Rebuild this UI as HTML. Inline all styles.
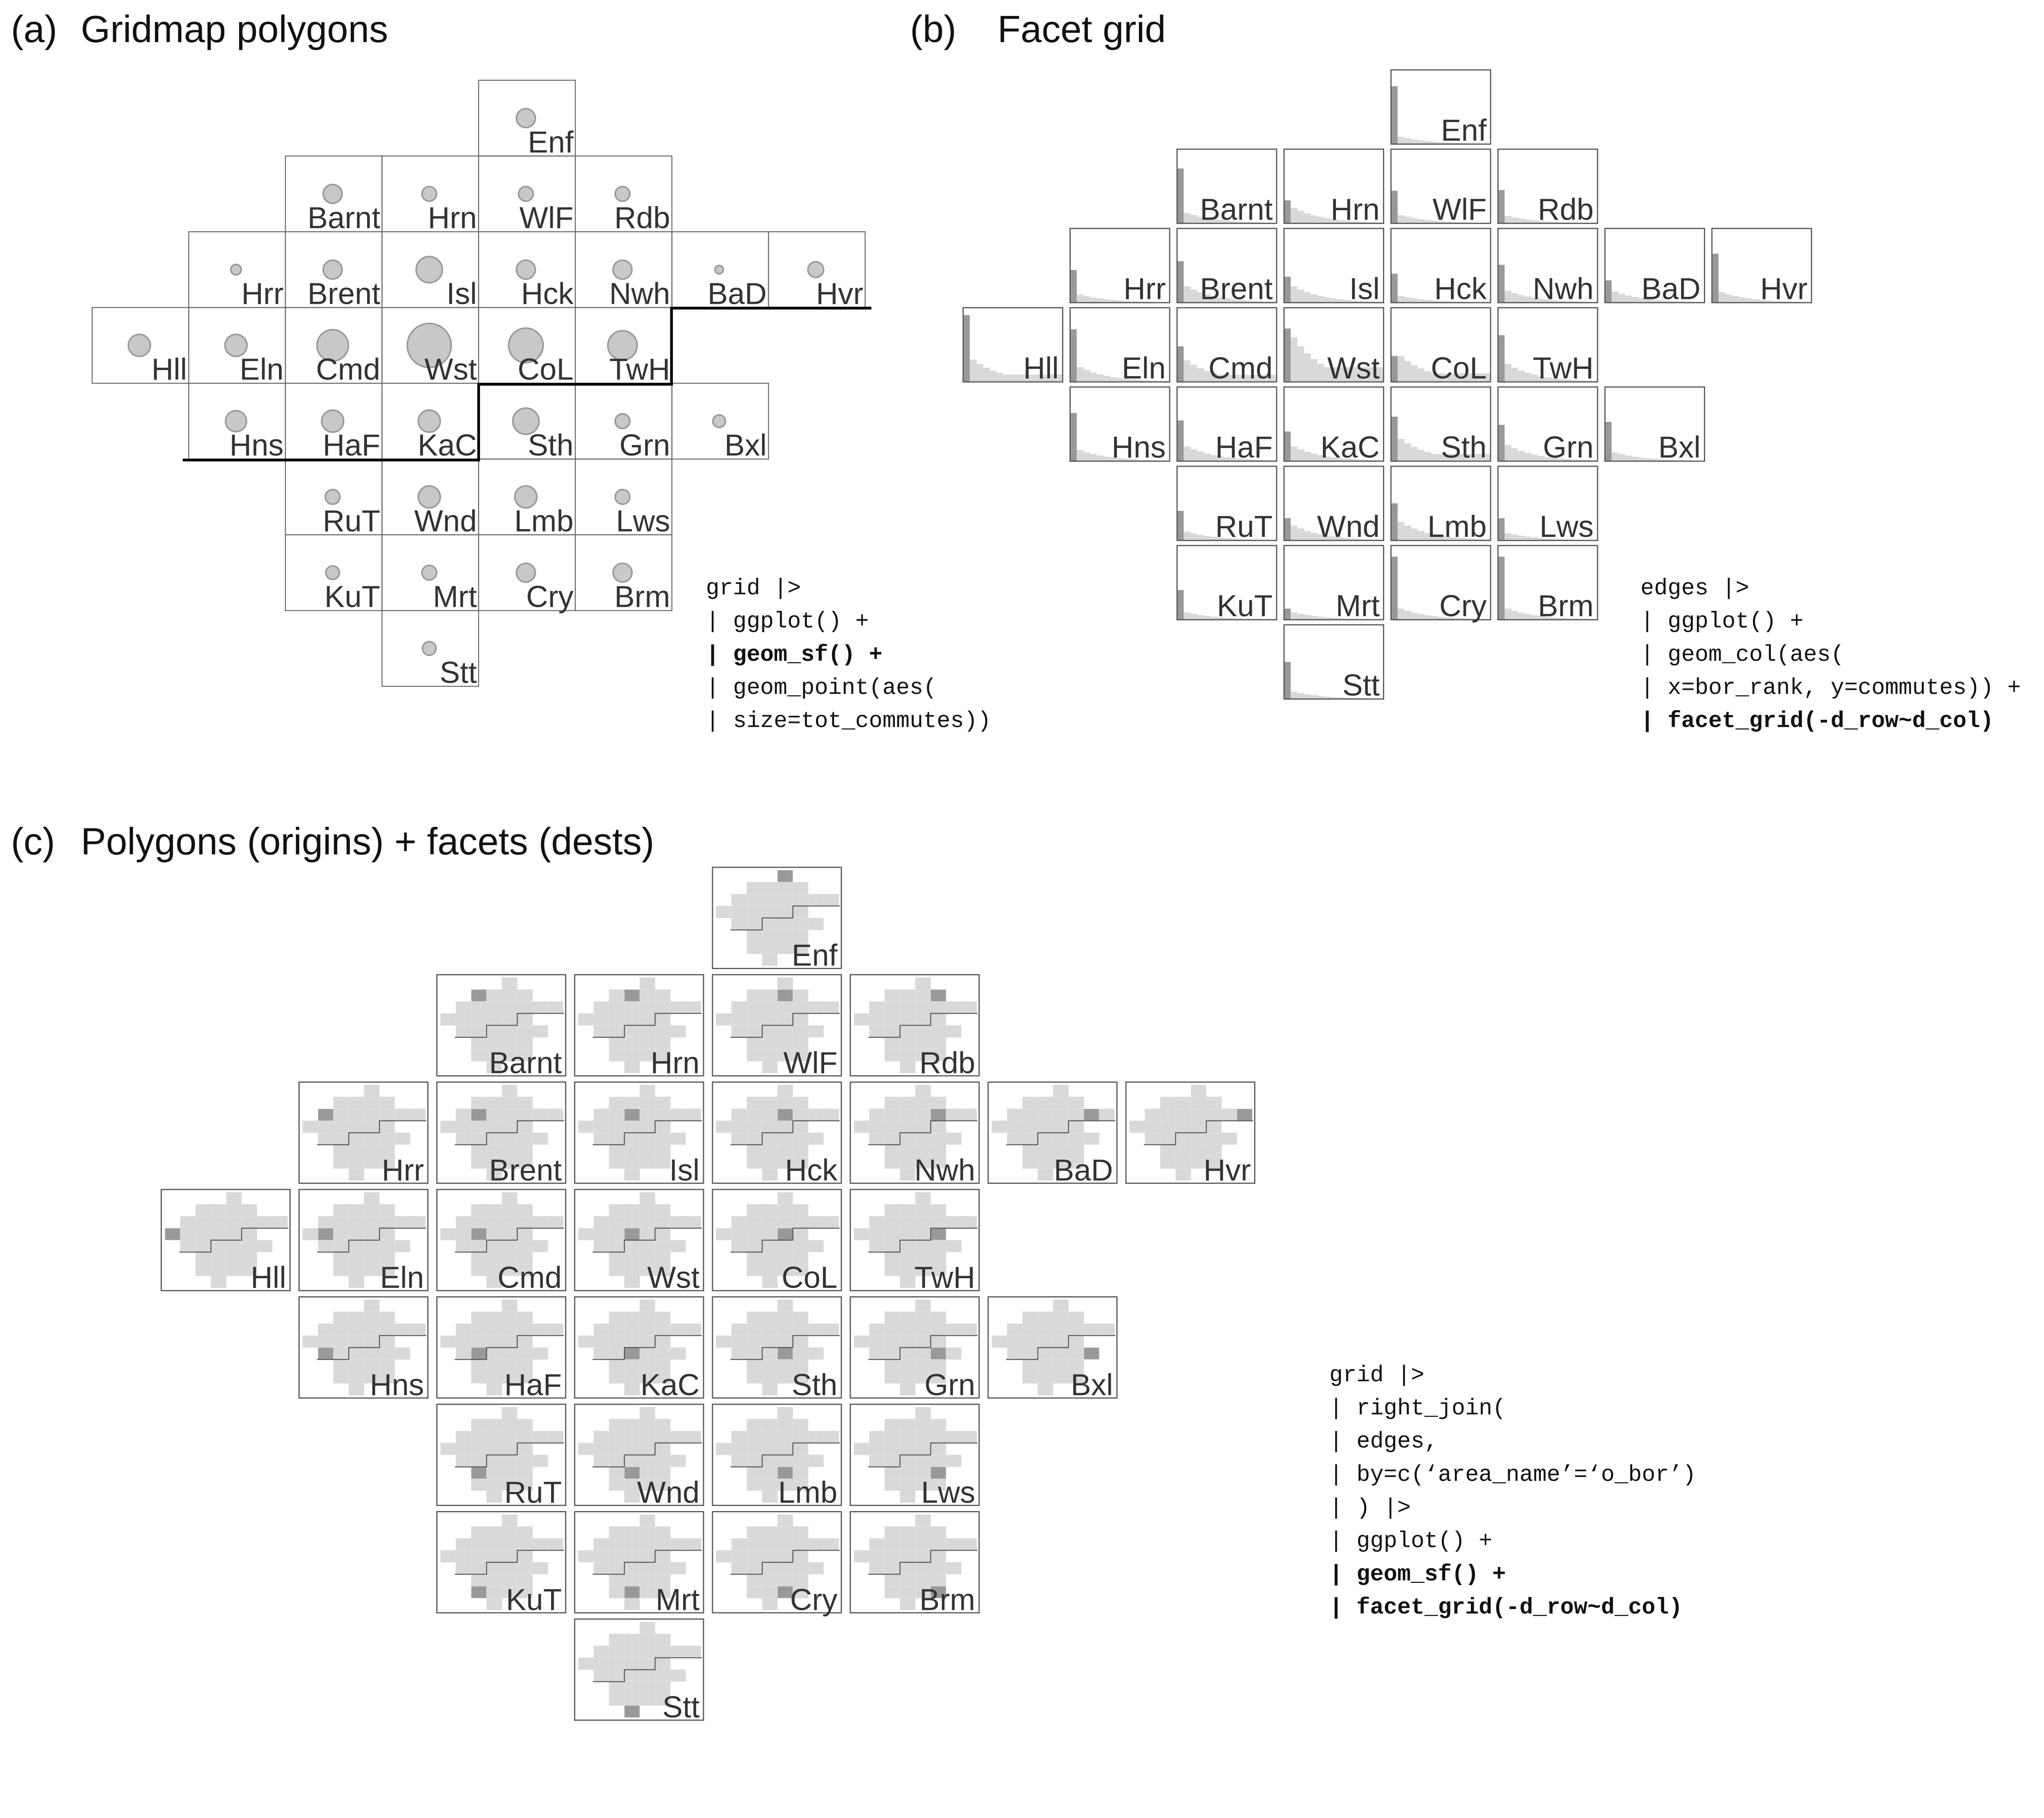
<!DOCTYPE html>
<html><head><meta charset="utf-8"><style>
html,body{margin:0;padding:0;background:#fff;}
svg{display:block;}
.lab{font-family:"Liberation Sans",sans-serif;font-size:78px;fill:#333;text-anchor:end;}
.ttl{font-family:"Liberation Sans",sans-serif;font-size:97px;fill:#111;}
.code{font-family:"Liberation Mono",monospace;font-size:58px;fill:#111;white-space:pre;}
.b{font-weight:bold;}
</style></head><body>
<svg id="s" width="5237" height="4446" viewBox="0 0 5237 4446" xmlns="http://www.w3.org/2000/svg">
<rect width="5237" height="4446" fill="#fff"/>
<g transform="scale(0.955)">
<text class="ttl" x="28" y="108">(a)</text><text class="ttl" x="207" y="108">Gridmap polygons</text>
<text class="ttl" x="2331" y="108">(b)</text><text class="ttl" x="2555" y="108">Facet grid</text>
<text class="ttl" x="28" y="2188">(c)</text><text class="ttl" x="207" y="2188">Polygons (origins) + facets (dests)</text>
<g id="shA"></g><g id="shB"></g><g id="shC"></g>
<g id="A" class="lab"><text>Enf</text><text>Barnt</text><text>Hrn</text><text>WlF</text><text>Rdb</text><text>Hrr</text><text>Brent</text><text>Isl</text><text>Hck</text><text>Nwh</text><text>BaD</text><text>Hvr</text><text>Hll</text><text>Eln</text><text>Cmd</text><text>Wst</text><text>CoL</text><text>TwH</text><text>Hns</text><text>HaF</text><text>KaC</text><text>Sth</text><text>Grn</text><text>Bxl</text><text>RuT</text><text>Wnd</text><text>Lmb</text><text>Lws</text><text>KuT</text><text>Mrt</text><text>Cry</text><text>Brm</text><text>Stt</text></g>
<g id="B" class="lab"><text>Enf</text><text>Barnt</text><text>Hrn</text><text>WlF</text><text>Rdb</text><text>Hrr</text><text>Brent</text><text>Isl</text><text>Hck</text><text>Nwh</text><text>BaD</text><text>Hvr</text><text>Hll</text><text>Eln</text><text>Cmd</text><text>Wst</text><text>CoL</text><text>TwH</text><text>Hns</text><text>HaF</text><text>KaC</text><text>Sth</text><text>Grn</text><text>Bxl</text><text>RuT</text><text>Wnd</text><text>Lmb</text><text>Lws</text><text>KuT</text><text>Mrt</text><text>Cry</text><text>Brm</text><text>Stt</text></g>
<g id="C" class="lab"><text>Enf</text><text>Barnt</text><text>Hrn</text><text>WlF</text><text>Rdb</text><text>Hrr</text><text>Brent</text><text>Isl</text><text>Hck</text><text>Nwh</text><text>BaD</text><text>Hvr</text><text>Hll</text><text>Eln</text><text>Cmd</text><text>Wst</text><text>CoL</text><text>TwH</text><text>Hns</text><text>HaF</text><text>KaC</text><text>Sth</text><text>Grn</text><text>Bxl</text><text>RuT</text><text>Wnd</text><text>Lmb</text><text>Lws</text><text>KuT</text><text>Mrt</text><text>Cry</text><text>Brm</text><text>Stt</text></g>
<g class="code">
<text x="1808" y="1522">grid |&gt;</text>
<text x="1808" y="1607">| ggplot() +</text>
<text x="1808" y="1692" class="b">|  geom_sf() +</text>
<text x="1808" y="1777">| geom_point(aes(</text>
<text x="1808" y="1862">| size=tot_commutes))</text>
<text x="4202" y="1522">edges |&gt;</text>
<text x="4202" y="1607">| ggplot() +</text>
<text x="4202" y="1692">| geom_col(aes(</text>
<text x="4202" y="1777">| x=bor_rank, y=commutes)) +</text>
<text x="4202" y="1862" class="b">|  facet_grid(-d_row~d_col)</text>
<text x="3405" y="3537">grid |&gt;</text>
<text x="3405" y="3622">| right_join(</text>
<text x="3405" y="3707">| edges,</text>
<text x="3405" y="3792">| by=c(‘area_name’=‘o_bor’)</text>
<text x="3405" y="3877">| ) |&gt;</text>
<text x="3405" y="3962">| ggplot() +</text>
<text x="3405" y="4047" class="b">|  geom_sf() +</text>
<text x="3405" y="4132" class="b">|  facet_grid(-d_row~d_col)</text>
</g>
</g>
</svg>
<script>
var NS="http://www.w3.org/2000/svg";
var cells=[[0,4],[1,2],[1,3],[1,4],[1,5],[2,1],[2,2],[2,3],[2,4],[2,5],[2,6],[2,7],[3,0],[3,1],[3,2],[3,3],[3,4],[3,5],[4,1],[4,2],[4,3],[4,4],[4,5],[4,6],[5,2],[5,3],[5,4],[5,5],[6,2],[6,3],[6,4],[6,5],[7,3]];
var rad=[18,18,14,14,14,10,18,25,18,18,8,15,21,21,30,42,33,28,20,21,21,25,14,12,14,21,21,14,13,14,18,18,13];
var bars=[[.78,.1],[.74,.14],[.31,.21],[.44,.11],[.45,.1],[.44,.11],[.56,.22],[.35,.22],[.39,.09],[.51,.16],[.3,.15],[.66,.14],[.9,.3],[.71,.2],[.48,.29],[.72,.6],[.35,.35],[.63,.24],[.65,.15],[.55,.2],[.4,.2],[.6,.3],[.49,.22],[.53,.12],[.4,.12],[.3,.2],[.5,.25],[.3,.1],[.4,.1],[.15,.1],[.85,.15],[.85,.15],[.5,.1]];
function el(p,t,a){var e=document.createElementNS(NS,t);for(var k in a)e.setAttribute(k,a[k]);p.appendChild(e);return e;}
var gA=document.getElementById('shA'),gB=document.getElementById('shB'),gC=document.getElementById('shC');
var tA=document.getElementById('A').children,tB=document.getElementById('B').children,tC=document.getElementById('C').children;
for(var i=0;i<33;i++){
 var r=cells[i][0],c=cells[i][1];
 var x=236+c*247.5,y=205.5+r*194;
 el(gA,'rect',{x:x,y:y,width:247.5,height:194,fill:'none',stroke:'#666','stroke-width':2.5});
 el(gA,'circle',{cx:x+121,cy:y+97,r:rad[i]*1.34,fill:'#c8c8c8',stroke:'#999','stroke-width':4});
 tA[i].setAttribute('x',x+243);tA[i].setAttribute('y',y+185);
 x=2467+c*274;y=179+r*203;var w=255,h=190;
 el(gB,'rect',{x:x,y:y,width:w,height:h,fill:'#fff'});
 var L=bars[i][1];
 for(var k=1;k<15;k++){var hh=L*Math.pow(0.8,k-1)*h;if(L>0.25)hh=Math.max(hh,L*0.33*h);if(hh<1.5)hh=1.5;
  el(gB,'rect',{x:x+k*17,y:y+h-hh,width:17.5,height:hh,fill:'#d9d9d9'});}
 el(gB,'rect',{x:x,y:y+h-bars[i][0]*h,width:17,height:bars[i][0]*h,fill:'#999'});
 el(gB,'rect',{x:x,y:y,width:w,height:h,fill:'none',stroke:'#555','stroke-width':3});
 tB[i].setAttribute('x',x+w-10);tB[i].setAttribute('y',y+h-9);
 x=413+c*353;y=2221+r*275;w=330;h=259;
 el(gC,'rect',{x:x,y:y,width:w,height:h,fill:'#fff',stroke:'#555','stroke-width':3});
 var mx=x+9.4,my=y+7.3,cw=39.3,ch=30.6;
 for(var j=0;j<33;j++){var rr=cells[j][0],cc=cells[j][1];
  el(gC,'rect',{x:mx+cc*cw,y:my+rr*ch,width:cw,height:ch,fill:j==i?'#999':'#d9d9d9',stroke:'#e2e2e2','stroke-width':0.8});}
 var p=[[mx+cw*0.93,my+5*ch],[mx+3*cw,my+5*ch],[mx+3*cw,my+4*ch],[mx+5*cw,my+4*ch],[mx+5*cw,my+3*ch],[mx+8*cw+2,my+3*ch]];
 el(gC,'polyline',{points:p.map(function(q){return q.join(',')}).join(' '),fill:'none',stroke:'#555','stroke-width':2.5});
 tC[i].setAttribute('x',x+w-10);tC[i].setAttribute('y',y+h-7);
}
el(gA,'polyline',{points:'468,1178 1226,1178 1226,984 1720,984 1720,789 2232,789',fill:'none',stroke:'#000','stroke-width':7});
</script>
</body></html>
